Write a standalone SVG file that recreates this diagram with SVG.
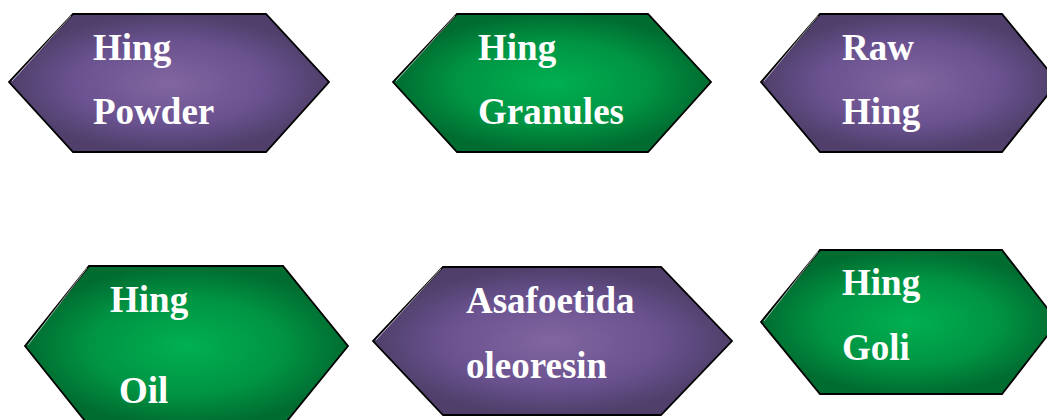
<svg xmlns="http://www.w3.org/2000/svg" width="1047" height="420" viewBox="0 0 1047 420">
<defs>
<radialGradient id="gPurple" cx="50%" cy="50%" r="50%">
<stop offset="0" stop-color="#8166a0"/>
<stop offset="0.6" stop-color="#6a5290"/>
<stop offset="1" stop-color="#4f3f6a"/>
</radialGradient>
<radialGradient id="gGreen" cx="50%" cy="50%" r="50%">
<stop offset="0" stop-color="#00b050"/>
<stop offset="0.6" stop-color="#009443"/>
<stop offset="1" stop-color="#006c30"/>
</radialGradient>
</defs>
<style>
.hex{stroke:#000;stroke-width:1.8;stroke-linejoin:miter}
.p{fill:url(#gPurple)}
.g{fill:url(#gGreen)}
.hl{fill:none;stroke:#fff;stroke-opacity:0.6;stroke-width:1}
text{font-family:"Liberation Serif","Times New Roman",serif;font-weight:bold;font-size:37px;fill:#fff}
</style>
<rect width="1047" height="420" fill="#fff"/>
<g id="connectors"></g>
<g id="node-hing-powder">
<polygon class="hex p" points="73,14 266,14 329,82 266,152 73,152 9,82"/>
<polyline class="hl" points="12,81 71,16"/>
<text x="93" y="60">Hing</text>
<text x="93" y="124">Powder</text>
</g>
<g id="node-hing-granules">
<polygon class="hex g" points="457,14 648,14 711,82 648,152 457,152 393,82"/>
<polyline class="hl" points="396,81 455,16"/>
<text x="478" y="60">Hing</text>
<text x="478" y="124">Granules</text>
</g>
<g id="node-raw-hing">
<polygon class="hex p" points="820,14 1002,14 1058,82 1002,152 820,152 761,82"/>
<polyline class="hl" points="764,81 818,16"/>
<text x="842" y="60">Raw</text>
<text x="842" y="124">Hing</text>
</g>
<g id="node-hing-oil">
<polygon class="hex g" points="89,266 283,266 348,346 283,426 89,426 25,346"/>
<polyline class="hl" points="28,345 87,268"/>
<text x="110" y="312">Hing</text>
<text x="119" y="403">Oil</text>
</g>
<g id="node-asafoetida-oleoresin">
<polygon class="hex p" points="443,267 661,267 732,341 661,415 443,415 373,341"/>
<polyline class="hl" points="376,340 441,269"/>
<text x="466" y="313">Asafoetida</text>
<text x="466" y="378">oleoresin</text>
</g>
<g id="node-hing-goli">
<polygon class="hex g" points="820,250 1002,250 1058,322 1002,394 820,394 761,322"/>
<polyline class="hl" points="764,321 818,252"/>
<text x="842" y="295">Hing</text>
<text x="842" y="360">Goli</text>
</g>
</svg>
